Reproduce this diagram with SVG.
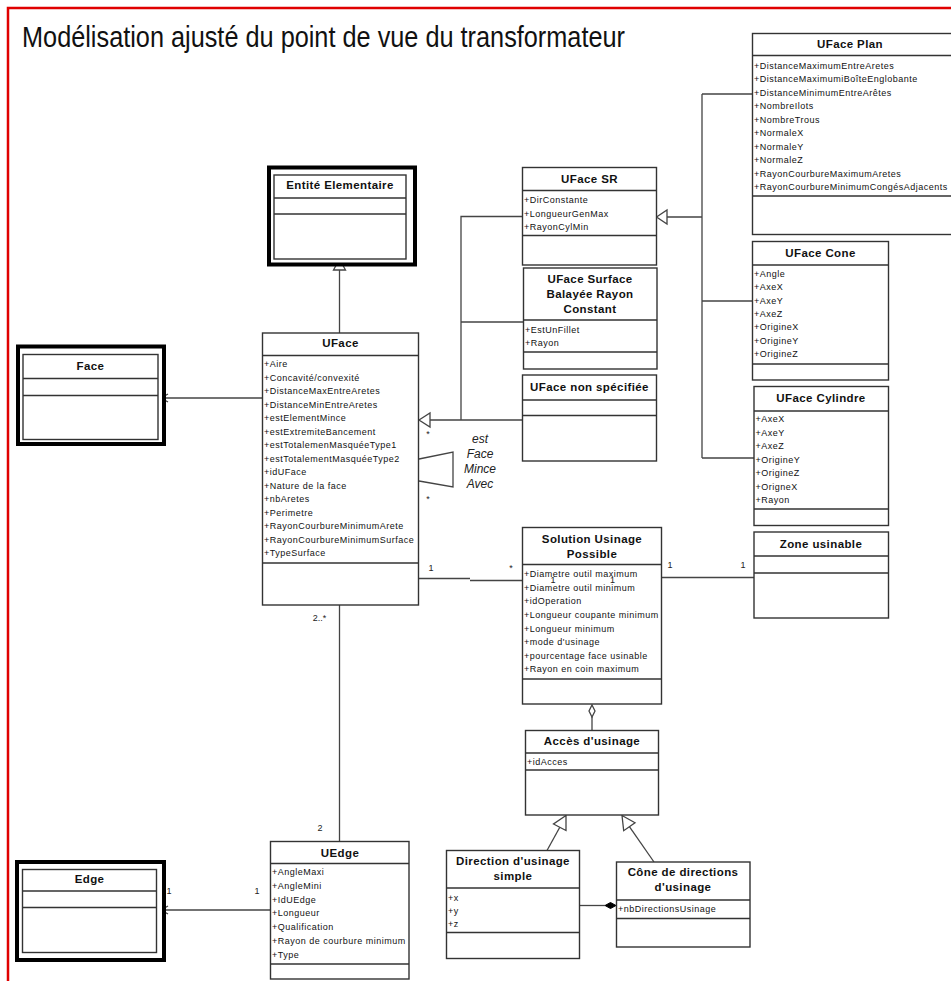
<svg xmlns="http://www.w3.org/2000/svg" width="951" height="981" viewBox="0 0 951 981">
<style>
.box{fill:#fff;stroke:#333;stroke-width:1.4}
.sep{stroke:#333;stroke-width:1.4}
.thick{fill:#fff;stroke:#000;stroke-width:4}
.ttl{font-family:"Liberation Sans",Arial,sans-serif;font-weight:bold;font-size:11.5px;letter-spacing:.4px;text-anchor:middle;fill:#111}
.att{font-family:"Liberation Sans",Arial,sans-serif;font-size:9px;letter-spacing:.5px;fill:#111}
.lbl{font-family:"Liberation Sans",Arial,sans-serif;font-size:9px;fill:#222;text-anchor:middle}
.it{font-family:"Liberation Sans",Arial,sans-serif;font-style:italic;font-size:12px;fill:#222;text-anchor:middle}
.ln{stroke:#444;stroke-width:1.3;fill:none}
.tri{fill:#fff;stroke:#444;stroke-width:1.3}
</style>
<rect width="951" height="981" fill="#fff"/>
<path d="M8,981 V8 H951" fill="none" stroke="#e00000" stroke-width="2.5"/>
<text x="22" y="47" font-family="'Liberation Sans',Arial,sans-serif" font-size="29" textLength="603" lengthAdjust="spacingAndGlyphs" fill="#111">Modélisation ajusté du point de vue du transformateur</text>

<g id="connectors">
  <line class="ln" x1="339.5" y1="333" x2="339.5" y2="270"/>
  <polygon class="tri" points="339.5,259 333.5,270 345.5,270"/>
  <line class="ln" x1="166" y1="398" x2="262.5" y2="398"/>
  <polyline class="ln" points="168,394 161,398 168,402"/>
  <line class="ln" x1="166" y1="910" x2="270.5" y2="910"/>
  <polyline class="ln" points="168,906 161,910 168,914"/>
  <line class="ln" x1="339.5" y1="605" x2="339.5" y2="841.5"/>
  <path class="ln" d="M430,420 H522.5 M461,420 V216.5 H522.5 M461,322 H523.5"/>
  <polygon class="tri" points="419,420 430,413 430,427"/>
  <polyline class="ln" points="419,459 453,452 453,487 419,481"/>
  <path class="ln" d="M667,217 H702 M702,94 V458 M702,94 H752.5 M702,301 H752.5 M702,458 H754"/>
  <polygon class="tri" points="656.5,217 667,210 667,224"/>
  <path class="ln" d="M419,578.5 H470 M470,580.5 H522.5"/>
  <line class="ln" x1="661.5" y1="577.5" x2="754" y2="577.5"/>
  <line class="ln" x1="592" y1="717" x2="592" y2="730.5"/>
  <polygon class="tri" points="592,705 595,711 592,717 589,711"/>
  <line class="ln" x1="547" y1="850.5" x2="559.8" y2="827.3"/>
  <polygon class="tri" points="566,815.5 566,830.5 553.5,824"/>
  <line class="ln" x1="654" y1="862" x2="629.4" y2="826.7"/>
  <polygon class="tri" points="622,815.5 635,822.7 623.7,830.7"/>
  <line class="ln" x1="580" y1="905.5" x2="605" y2="905.5"/>
  <polygon points="605,905.5 610.5,902.5 616,905.5 610.5,908.5" fill="#000" stroke="#000" stroke-width="1"/>
  <text class="lbl" x="428" y="437" font-size="8">*</text>
  <text class="lbl" x="428" y="502" font-size="8">*</text>
  <text class="it" x="480" y="442.5">est</text>
  <text class="it" x="480" y="457.5">Face</text>
  <text class="it" x="480" y="472.5">Mince</text>
  <text class="it" x="480" y="487.5">Avec</text>
  <text class="lbl" x="431" y="571">1</text>
  <text class="lbl" x="511" y="571">*</text>
  <text class="lbl" x="670" y="568">1</text>
  <text class="lbl" x="743" y="568">1</text>
  <text class="lbl" x="319.5" y="621">2..*</text>
  <text class="lbl" x="320" y="831">2</text>
  <text class="lbl" x="169" y="894">1</text>
  <text class="lbl" x="257" y="894">1</text>
</g>

<g id="entite">
  <rect class="thick" x="269" y="167.5" width="146" height="97"/>
  <rect class="box" x="274" y="175" width="132" height="84"/>
  <text class="ttl" x="340" y="189">Entité Elementaire</text>
  <path class="sep" d="M274,198 H406 M274,214 H406"/>
</g>
<g id="face">
  <rect class="thick" x="18" y="346.5" width="146" height="97.5"/>
  <rect class="box" x="23" y="354.5" width="135" height="85"/>
  <text class="ttl" x="90.5" y="370">Face</text>
  <path class="sep" d="M23,378.5 H158 M23,395.5 H158"/>
</g>
<g id="edge">
  <rect class="thick" x="17" y="862" width="147" height="98"/>
  <rect class="box" x="22.5" y="869.5" width="134" height="83"/>
  <text class="ttl" x="89.5" y="883">Edge</text>
  <path class="sep" d="M22.5,891 H156.5 M22.5,907.5 H156.5"/>
</g>

<g id="uface">
  <rect class="box" x="262.5" y="333" width="156" height="272"/>
  <text class="ttl" x="340.5" y="347">UFace</text>
  <path class="sep" d="M262.5,355.5 H418.5 M262.5,563 H418.5"/>
  <text class="att" x="264" y="367">+Aire</text>
  <text class="att" x="264" y="380.5">+Concavité/convexité</text>
  <text class="att" x="264" y="394">+DistanceMaxEntreAretes</text>
  <text class="att" x="264" y="407.5">+DistanceMinEntreAretes</text>
  <text class="att" x="264" y="421">+estElementMince</text>
  <text class="att" x="264" y="434.5">+estExtremiteBancement</text>
  <text class="att" x="264" y="448">+estTotalemenMasquéeType1</text>
  <text class="att" x="264" y="461.5">+estTotalementMasquéeType2</text>
  <text class="att" x="264" y="475">+idUFace</text>
  <text class="att" x="264" y="488.5">+Nature de la face</text>
  <text class="att" x="264" y="502">+nbAretes</text>
  <text class="att" x="264" y="515.5">+Perimetre</text>
  <text class="att" x="264" y="529">+RayonCourbureMinimumArete</text>
  <text class="att" x="264" y="542.5">+RayonCourbureMinimumSurface</text>
  <text class="att" x="264" y="556">+TypeSurface</text>
</g>

<g id="ufacesr">
  <rect class="box" x="522.5" y="167.5" width="134" height="97.5"/>
  <text class="ttl" x="589.5" y="183">UFace SR</text>
  <path class="sep" d="M522.5,190.5 H656.5 M522.5,235.5 H656.5"/>
  <text class="att" x="524" y="203">+DirConstante</text>
  <text class="att" x="524" y="216.5">+LongueurGenMax</text>
  <text class="att" x="524" y="230">+RayonCylMin</text>
</g>
<g id="ufacesurface">
  <rect class="box" x="523.5" y="268" width="133.5" height="101"/>
  <text class="ttl" x="590" y="282.5">UFace Surface</text>
  <text class="ttl" x="590" y="298">Balayée Rayon</text>
  <text class="ttl" x="590" y="313">Constant</text>
  <path class="sep" d="M523.5,320 H657 M523.5,352 H657"/>
  <text class="att" x="525" y="332.5">+EstUnFillet</text>
  <text class="att" x="525" y="346">+Rayon</text>
</g>
<g id="ufacenonspec">
  <rect class="box" x="522.5" y="375" width="134" height="86"/>
  <text class="ttl" x="589.5" y="390.5">UFace non spécifiée</text>
  <path class="sep" d="M522.5,400 H656.5 M522.5,415.5 H656.5"/>
</g>

<g id="ufaceplan">
  <rect class="box" x="752.5" y="33.5" width="210" height="201"/>
  <text class="ttl" x="850" y="48">UFace Plan</text>
  <path class="sep" d="M752.5,55.5 H962 M752.5,196 H962"/>
  <text class="att" x="754" y="68.5">+DistanceMaximumEntreAretes</text>
  <text class="att" x="754" y="82">+DistanceMaximumiBoîteEnglobante</text>
  <text class="att" x="754" y="95.5">+DistanceMinimumEntreArêtes</text>
  <text class="att" x="754" y="109">+NombreIlots</text>
  <text class="att" x="754" y="122.5">+NombreTrous</text>
  <text class="att" x="754" y="136">+NormaleX</text>
  <text class="att" x="754" y="149.5">+NormaleY</text>
  <text class="att" x="754" y="163">+NormaleZ</text>
  <text class="att" x="754" y="176.5">+RayonCourbureMaximumAretes</text>
  <text class="att" x="754" y="190">+RayonCourbureMinimumCongésAdjacents</text>
</g>
<g id="ufacecone">
  <rect class="box" x="752.5" y="241.5" width="136" height="138.5"/>
  <text class="ttl" x="820.5" y="256.5">UFace Cone</text>
  <path class="sep" d="M752.5,265 H888.5 M752.5,364 H888.5"/>
  <text class="att" x="754" y="277">+Angle</text>
  <text class="att" x="754" y="290.4">+AxeX</text>
  <text class="att" x="754" y="303.7">+AxeY</text>
  <text class="att" x="754" y="317">+AxeZ</text>
  <text class="att" x="754" y="330.4">+OrigineX</text>
  <text class="att" x="754" y="343.7">+OrigineY</text>
  <text class="att" x="754" y="357">+OrigineZ</text>
</g>
<g id="ufacecylindre">
  <rect class="box" x="754" y="386.5" width="134.5" height="139"/>
  <text class="ttl" x="821" y="401.5">UFace Cylindre</text>
  <path class="sep" d="M754,411 H888.5 M754,509 H888.5"/>
  <text class="att" x="755.5" y="422">+AxeX</text>
  <text class="att" x="755.5" y="435.5">+AxeY</text>
  <text class="att" x="755.5" y="449">+AxeZ</text>
  <text class="att" x="755.5" y="462.5">+OrigineY</text>
  <text class="att" x="755.5" y="476">+OrigineZ</text>
  <text class="att" x="755.5" y="489.5">+OrigneX</text>
  <text class="att" x="755.5" y="503">+Rayon</text>
</g>

<g id="solution">
  <rect class="box" x="522.5" y="527.5" width="139" height="176.5"/>
  <text class="ttl" x="592" y="543">Solution Usinage</text>
  <text class="ttl" x="592" y="558">Possible</text>
  <path class="sep" d="M522.5,564.5 H661.5 M522.5,679 H661.5"/>
  <text class="att" x="524" y="577.2">+Diametre outil maximum</text>
  <text class="att" x="524" y="590.8">+Diametre outil minimum</text>
  <text class="att" x="524" y="604.4">+idOperation</text>
  <text class="att" x="524" y="618">+Longueur coupante minimum</text>
  <text class="att" x="524" y="631.6">+Longueur minimum</text>
  <text class="att" x="524" y="645.2">+mode d'usinage</text>
  <text class="att" x="524" y="658.8">+pourcentage face usinable</text>
  <text class="att" x="524" y="672.4">+Rayon en coin maximum</text>
  <text class="lbl" x="553" y="583" font-size="7">1</text>
  <text class="lbl" x="612.5" y="583" font-size="7">1</text>
</g>
<g id="zone">
  <rect class="box" x="754" y="532" width="134.5" height="86"/>
  <text class="ttl" x="821" y="547.5">Zone usinable</text>
  <path class="sep" d="M754,556 H888.5 M754,573 H888.5"/>
</g>
<g id="acces">
  <rect class="box" x="525.5" y="730.5" width="133" height="84.5"/>
  <text class="ttl" x="592" y="745">Accès d'usinage</text>
  <path class="sep" d="M525.5,753 H658.5 M525.5,770 H658.5"/>
  <text class="att" x="527" y="765">+idAcces</text>
</g>
<g id="direction">
  <rect class="box" x="446.5" y="850.5" width="133" height="108"/>
  <text class="ttl" x="513" y="865">Direction d'usinage</text>
  <text class="ttl" x="513" y="880">simple</text>
  <path class="sep" d="M446.5,888 H579.5 M446.5,932.5 H579.5"/>
  <text class="att" x="448" y="901">+x</text>
  <text class="att" x="448" y="914">+y</text>
  <text class="att" x="448" y="927">+z</text>
</g>
<g id="cone-directions">
  <rect class="box" x="616.5" y="862" width="133.5" height="85"/>
  <text class="ttl" x="683" y="876">Cône de directions</text>
  <text class="ttl" x="683" y="891">d'usinage</text>
  <path class="sep" d="M616.5,900 H750 M616.5,918.5 H750"/>
  <text class="att" x="618" y="912">+nbDirectionsUsinage</text>
</g>
<g id="uedge">
  <rect class="box" x="270.5" y="841.5" width="138.5" height="137.5"/>
  <text class="ttl" x="340" y="857">UEdge</text>
  <path class="sep" d="M270.5,863.5 H409 M270.5,964 H409"/>
  <text class="att" x="272" y="875.2">+AngleMaxi</text>
  <text class="att" x="272" y="889">+AngleMini</text>
  <text class="att" x="272" y="902.7">+IdUEdge</text>
  <text class="att" x="272" y="916.4">+Longueur</text>
  <text class="att" x="272" y="930.2">+Qualification</text>
  <text class="att" x="272" y="943.9">+Rayon de courbure minimum</text>
  <text class="att" x="272" y="957.7">+Type</text>
</g>
</svg>
